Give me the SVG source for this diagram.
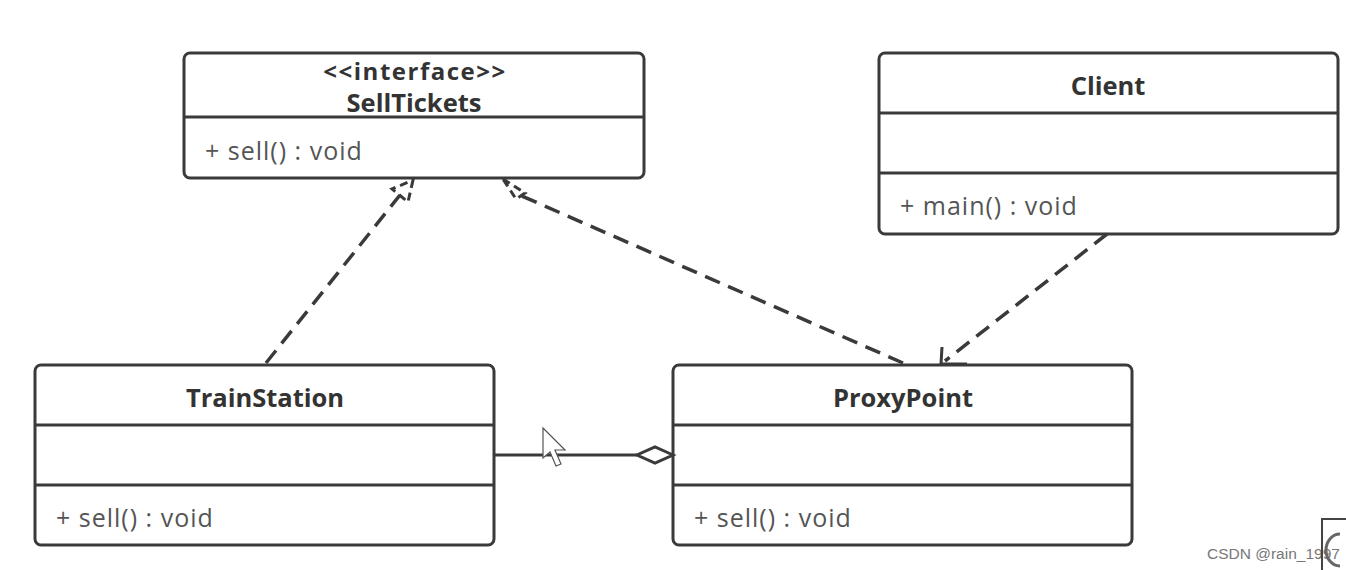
<svg xmlns="http://www.w3.org/2000/svg" width="1346" height="570" viewBox="0 0 1346 570">
<style>
.box{fill:#fff;stroke:#3a3a3a;stroke-width:3}
.div{stroke:#3a3a3a;stroke-width:3}
.title{font-family:"Open Sans","Noto Sans","Liberation Sans",sans-serif;font-weight:bold;font-size:25.5px;fill:#333;text-anchor:middle}
.mem{font-family:"Open Sans","Noto Sans","Liberation Sans",sans-serif;font-size:25px;fill:#555;letter-spacing:1px}
.dash{fill:none;stroke:#3a3a3a;stroke-width:3.5;stroke-dasharray:16 9}
.solid{fill:none;stroke:#3a3a3a;stroke-width:3}
</style>
<rect width="1346" height="570" fill="#fff"/>
<g id="SellTickets">
<rect class="box" x="184" y="53" width="460" height="125" rx="6"/>
<line class="div" x1="184" y1="117" x2="644" y2="117"/>
<text class="title" x="415" y="80" style="letter-spacing:1.5px;font-size:24px">&lt;&lt;interface&gt;&gt;</text>
<text class="title" x="414" y="112">SellTickets</text>
<text class="mem" x="205" y="160">+ sell() : void</text>
</g>
<g id="Client">
<rect class="box" x="879" y="53" width="459" height="181" rx="6"/>
<line class="div" x1="879" y1="113" x2="1338" y2="113"/>
<line class="div" x1="879" y1="173" x2="1338" y2="173"/>
<text class="title" x="1108" y="95">Client</text>
<text class="mem" x="900" y="215">+ main() : void</text>
</g>
<g id="TrainStation">
<rect class="box" x="35" y="365" width="459" height="180" rx="6"/>
<line class="div" x1="35" y1="425" x2="494" y2="425"/>
<line class="div" x1="35" y1="485" x2="494" y2="485"/>
<text class="title" x="265" y="407">TrainStation</text>
<text class="mem" x="56" y="527">+ sell() : void</text>
</g>
<g id="ProxyPoint">
<rect class="box" x="673" y="365" width="459" height="180" rx="6"/>
<line class="div" x1="673" y1="425" x2="1132" y2="425"/>
<line class="div" x1="673" y1="485" x2="1132" y2="485"/>
<text class="title" x="903" y="407">ProxyPoint</text>
<text class="mem" x="694" y="527">+ sell() : void</text>
</g>
<g id="connectors">
<line class="dash" x1="266" y1="363" x2="400" y2="195"/>
<polygon class="dash" points="413,180 408,202 392,189" style="stroke-dasharray:8 5;stroke-width:3"/>
<line class="dash" x1="903" y1="363" x2="515" y2="193"/>
<polygon class="dash" points="503,179 525,193 516,199" style="stroke-dasharray:8 5;stroke-width:3"/>
<line class="dash" x1="1107" y1="234" x2="945" y2="361"/>
<polyline class="solid" points="942,347 941,364 967,364"/>
<line class="solid" x1="494" y1="455" x2="637" y2="455"/>
<polygon class="solid" points="673,455 655,447 637,455 655,463" fill="#fff"/>
</g>
<polygon points="543,428 543,458 550,452 556,466 561,464 555,450 565,450" fill="#fff" stroke="#555" stroke-width="1.2"/>
<text x="1207" y="559" font-family="Liberation Sans,Arial,sans-serif" font-size="15.5" fill="#777">CSDN @rain_1997</text>
<path d="M1322,570 V519 H1346" fill="none" stroke="#444" stroke-width="2"/>
<path d="M1340,534 A14,16 0 0 0 1340,566" fill="none" stroke="#666" stroke-width="3"/>
</svg>
